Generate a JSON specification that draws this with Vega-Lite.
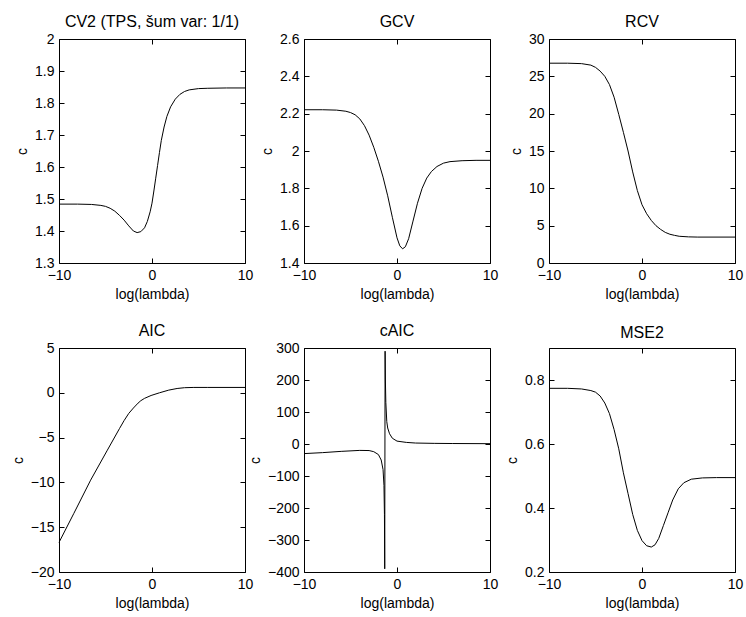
{
  "$schema": "https://vega.github.io/schema/vega-lite/v6.json",
  "padding": {"left": 10, "top": 13, "right": 0, "bottom": 0},
  "config": {
    "font": "Liberation Sans",
    "background": "white",
    "view": {"stroke": "black", "strokeWidth": 1},
    "axis": {
      "grid": false, "domain": false, "ticks": true, "tickColor": "black", "tickSize": 5, "tickWidth": 1, "offset": -5,
      "labelPadding": 5, "labelFontSize": 14, "labelColor": "black", "labelFlush": false, "labelOverlap": false, "labelBound": false,
      "titleFontSize": 14, "titleFontWeight": "normal", "titleColor": "black", "titlePadding": 5, "format": "~f"
    },
    "title": {"fontSize": 16, "fontWeight": "normal", "color": "black", "frame": "group", "anchor": "middle", "offset": 2},
    "line": {"color": "black", "strokeWidth": 1}
  },
  "bounds": "flush",
  "columns": 3,
  "spacing": {"row": 85, "column": 59},
  "concat": [
    {
      "title": "CV2 (TPS, šum var: 1/1)", "width": 186, "height": 224,
      "data": {"values": [
        {"x": -10, "y": 1.484}, {"x": -8, "y": 1.484}, {"x": -6.5, "y": 1.483}, {"x": -5.5, "y": 1.48}, {"x": -5, "y": 1.477}, {"x": -4.5, "y": 1.471}, {"x": -4, "y": 1.462}, {"x": -3.5, "y": 1.449}, {"x": -3, "y": 1.434}, {"x": -2.5, "y": 1.416}, {"x": -2, "y": 1.4}, {"x": -1.6, "y": 1.395}, {"x": -1.2, "y": 1.398}, {"x": -0.8, "y": 1.41}, {"x": -0.5, "y": 1.43}, {"x": -0.2, "y": 1.46}, {"x": 0, "y": 1.487}, {"x": 0.2, "y": 1.525}, {"x": 0.4, "y": 1.565}, {"x": 0.6, "y": 1.605}, {"x": 0.8, "y": 1.645}, {"x": 1, "y": 1.683}, {"x": 1.3, "y": 1.725}, {"x": 1.6, "y": 1.758}, {"x": 2, "y": 1.788}, {"x": 2.5, "y": 1.812}, {"x": 3, "y": 1.827}, {"x": 3.5, "y": 1.836}, {"x": 4, "y": 1.841}, {"x": 5, "y": 1.845}, {"x": 6, "y": 1.846}, {"x": 8, "y": 1.847}, {"x": 10, "y": 1.847}
      ]},
      "layer": [
        {"mark": "line", "encoding": {
          "x": {"field": "x", "type": "quantitative", "scale": {"domain": [-10, 10], "nice": false, "zero": false}, "axis": {"values": [-10, 0, 10], "title": "log(lambda)"}},
          "y": {"field": "y", "type": "quantitative", "scale": {"domain": [1.3, 2], "nice": false, "zero": false}, "axis": {"values": [1.3, 1.4, 1.5, 1.6, 1.7, 1.8, 1.9, 2], "title": "c"}}
        }},
        {"mark": {"type": "line", "opacity": 0}, "encoding": {
          "x": {"field": "x", "type": "quantitative", "axis": {"orient": "top", "values": [-10, 0, 10], "labels": false, "title": null}},
          "y": {"field": "y", "type": "quantitative", "axis": {"orient": "right", "values": [1.3, 1.4, 1.5, 1.6, 1.7, 1.8, 1.9, 2], "labels": false, "title": null}}
        }}
      ],
      "resolve": {"axis": {"x": "independent", "y": "independent"}}
    },
    {
      "title": "GCV", "width": 186, "height": 224,
      "data": {"values": [
        {"x": -10, "y": 2.221}, {"x": -8, "y": 2.221}, {"x": -6.5, "y": 2.219}, {"x": -5.5, "y": 2.213}, {"x": -5, "y": 2.206}, {"x": -4.5, "y": 2.194}, {"x": -4, "y": 2.172}, {"x": -3.5, "y": 2.136}, {"x": -3, "y": 2.085}, {"x": -2.5, "y": 2.02}, {"x": -2, "y": 1.945}, {"x": -1.5, "y": 1.86}, {"x": -1, "y": 1.76}, {"x": -0.5, "y": 1.645}, {"x": 0, "y": 1.535}, {"x": 0.3, "y": 1.492}, {"x": 0.6, "y": 1.476}, {"x": 0.9, "y": 1.487}, {"x": 1.25, "y": 1.53}, {"x": 1.7, "y": 1.62}, {"x": 2.2, "y": 1.72}, {"x": 2.7, "y": 1.8}, {"x": 3.2, "y": 1.855}, {"x": 3.7, "y": 1.89}, {"x": 4.3, "y": 1.917}, {"x": 5, "y": 1.935}, {"x": 5.7, "y": 1.943}, {"x": 7, "y": 1.948}, {"x": 8.5, "y": 1.95}, {"x": 10, "y": 1.95}
      ]},
      "layer": [
        {"mark": "line", "encoding": {
          "x": {"field": "x", "type": "quantitative", "scale": {"domain": [-10, 10], "nice": false, "zero": false}, "axis": {"values": [-10, 0, 10], "title": "log(lambda)"}},
          "y": {"field": "y", "type": "quantitative", "scale": {"domain": [1.4, 2.6], "nice": false, "zero": false}, "axis": {"values": [1.4, 1.6, 1.8, 2, 2.2, 2.4, 2.6], "title": "c"}}
        }},
        {"mark": {"type": "line", "opacity": 0}, "encoding": {
          "x": {"field": "x", "type": "quantitative", "axis": {"orient": "top", "values": [-10, 0, 10], "labels": false, "title": null}},
          "y": {"field": "y", "type": "quantitative", "axis": {"orient": "right", "values": [1.4, 1.6, 1.8, 2, 2.2, 2.4, 2.6], "labels": false, "title": null}}
        }}
      ],
      "resolve": {"axis": {"x": "independent", "y": "independent"}}
    },
    {
      "title": "RCV", "width": 186, "height": 224,
      "data": {"values": [
        {"x": -10, "y": 26.76}, {"x": -8, "y": 26.76}, {"x": -6.5, "y": 26.7}, {"x": -5.5, "y": 26.5}, {"x": -5, "y": 26.2}, {"x": -4.5, "y": 25.7}, {"x": -4, "y": 25}, {"x": -3.5, "y": 23.9}, {"x": -3, "y": 22.2}, {"x": -2.5, "y": 19.9}, {"x": -2, "y": 17.5}, {"x": -1.5, "y": 15}, {"x": -1, "y": 12.2}, {"x": -0.5, "y": 9.7}, {"x": 0, "y": 7.8}, {"x": 0.5, "y": 6.6}, {"x": 1, "y": 5.7}, {"x": 1.5, "y": 5}, {"x": 2, "y": 4.5}, {"x": 2.5, "y": 4.1}, {"x": 3, "y": 3.85}, {"x": 3.5, "y": 3.7}, {"x": 4, "y": 3.58}, {"x": 5, "y": 3.5}, {"x": 6, "y": 3.47}, {"x": 10, "y": 3.47}
      ]},
      "layer": [
        {"mark": "line", "encoding": {
          "x": {"field": "x", "type": "quantitative", "scale": {"domain": [-10, 10], "nice": false, "zero": false}, "axis": {"values": [-10, 0, 10], "title": "log(lambda)"}},
          "y": {"field": "y", "type": "quantitative", "scale": {"domain": [0, 30], "nice": false, "zero": false}, "axis": {"values": [0, 5, 10, 15, 20, 25, 30], "title": "c"}}
        }},
        {"mark": {"type": "line", "opacity": 0}, "encoding": {
          "x": {"field": "x", "type": "quantitative", "axis": {"orient": "top", "values": [-10, 0, 10], "labels": false, "title": null}},
          "y": {"field": "y", "type": "quantitative", "axis": {"orient": "right", "values": [0, 5, 10, 15, 20, 25, 30], "labels": false, "title": null}}
        }}
      ],
      "resolve": {"axis": {"x": "independent", "y": "independent"}}
    },
    {
      "title": "AIC", "width": 186, "height": 224,
      "data": {"values": [
        {"x": -10, "y": -16.7}, {"x": -8.4, "y": -13.45}, {"x": -6.6, "y": -9.75}, {"x": -4.8, "y": -6.4}, {"x": -3.5, "y": -4.0}, {"x": -3, "y": -3.1}, {"x": -2.5, "y": -2.3}, {"x": -2, "y": -1.7}, {"x": -1.5, "y": -1.15}, {"x": -1.2, "y": -0.88}, {"x": -0.8, "y": -0.62}, {"x": -0.1, "y": -0.3}, {"x": 0.8, "y": 0.0}, {"x": 1.8, "y": 0.3}, {"x": 2.7, "y": 0.48}, {"x": 3.5, "y": 0.57}, {"x": 4.5, "y": 0.6}, {"x": 6, "y": 0.6}, {"x": 10, "y": 0.6}
      ]},
      "layer": [
        {"mark": "line", "encoding": {
          "x": {"field": "x", "type": "quantitative", "scale": {"domain": [-10, 10], "nice": false, "zero": false}, "axis": {"values": [-10, 0, 10], "title": "log(lambda)"}},
          "y": {"field": "y", "type": "quantitative", "scale": {"domain": [-20, 5], "nice": false, "zero": false}, "axis": {"values": [-20, -15, -10, -5, 0, 5], "title": "c"}}
        }},
        {"mark": {"type": "line", "opacity": 0}, "encoding": {
          "x": {"field": "x", "type": "quantitative", "axis": {"orient": "top", "values": [-10, 0, 10], "labels": false, "title": null}},
          "y": {"field": "y", "type": "quantitative", "axis": {"orient": "right", "values": [-20, -15, -10, -5, 0, 5], "labels": false, "title": null}}
        }}
      ],
      "resolve": {"axis": {"x": "independent", "y": "independent"}}
    },
    {
      "title": "cAIC", "width": 186, "height": 224,
      "data": {"values": [
        {"x": -10, "y": -30}, {"x": -8, "y": -27}, {"x": -6, "y": -23}, {"x": -4, "y": -20}, {"x": -3, "y": -20.5}, {"x": -2.5, "y": -24}, {"x": -2, "y": -33}, {"x": -1.7, "y": -50}, {"x": -1.5, "y": -80}, {"x": -1.4, "y": -130}, {"x": -1.35, "y": -220}, {"x": -1.32, "y": -390}, {"x": -1.28, "y": 290}, {"x": -1.25, "y": 200}, {"x": -1.2, "y": 130}, {"x": -1.1, "y": 70}, {"x": -1, "y": 50}, {"x": -0.8, "y": 32}, {"x": -0.5, "y": 18}, {"x": 0, "y": 9}, {"x": 1, "y": 5}, {"x": 2, "y": 3}, {"x": 4, "y": 2}, {"x": 6, "y": 1.5}, {"x": 10, "y": 1}
      ]},
      "layer": [
        {"mark": "line", "encoding": {
          "x": {"field": "x", "type": "quantitative", "scale": {"domain": [-10, 10], "nice": false, "zero": false}, "axis": {"values": [-10, 0, 10], "title": "log(lambda)"}},
          "y": {"field": "y", "type": "quantitative", "scale": {"domain": [-400, 300], "nice": false, "zero": false}, "axis": {"values": [-400, -300, -200, -100, 0, 100, 200, 300], "title": "c"}}
        }},
        {"mark": {"type": "line", "opacity": 0}, "encoding": {
          "x": {"field": "x", "type": "quantitative", "axis": {"orient": "top", "values": [-10, 0, 10], "labels": false, "title": null}},
          "y": {"field": "y", "type": "quantitative", "axis": {"orient": "right", "values": [-400, -300, -200, -100, 0, 100, 200, 300], "labels": false, "title": null}}
        }}
      ],
      "resolve": {"axis": {"x": "independent", "y": "independent"}}
    },
    {
      "title": {"text": "MSE2", "offset": 7}, "width": 186, "height": 224,
      "data": {"values": [
        {"x": -10, "y": 0.774}, {"x": -8, "y": 0.774}, {"x": -6.5, "y": 0.772}, {"x": -5.5, "y": 0.767}, {"x": -5, "y": 0.762}, {"x": -4.5, "y": 0.75}, {"x": -4, "y": 0.728}, {"x": -3.5, "y": 0.695}, {"x": -3, "y": 0.645}, {"x": -2.5, "y": 0.585}, {"x": -2, "y": 0.51}, {"x": -1.5, "y": 0.445}, {"x": -1, "y": 0.38}, {"x": -0.5, "y": 0.33}, {"x": 0, "y": 0.298}, {"x": 0.5, "y": 0.282}, {"x": 1, "y": 0.278}, {"x": 1.4, "y": 0.285}, {"x": 1.8, "y": 0.305}, {"x": 2.3, "y": 0.345}, {"x": 2.8, "y": 0.385}, {"x": 3.3, "y": 0.425}, {"x": 3.9, "y": 0.46}, {"x": 4.5, "y": 0.479}, {"x": 5.3, "y": 0.49}, {"x": 6.5, "y": 0.494}, {"x": 8, "y": 0.495}, {"x": 10, "y": 0.495}
      ]},
      "layer": [
        {"mark": "line", "encoding": {
          "x": {"field": "x", "type": "quantitative", "scale": {"domain": [-10, 10], "nice": false, "zero": false}, "axis": {"values": [-10, 0, 10], "title": "log(lambda)"}},
          "y": {"field": "y", "type": "quantitative", "scale": {"domain": [0.2, 0.9], "nice": false, "zero": false}, "axis": {"values": [0.2, 0.4, 0.6, 0.8], "title": "c"}}
        }},
        {"mark": {"type": "line", "opacity": 0}, "encoding": {
          "x": {"field": "x", "type": "quantitative", "axis": {"orient": "top", "values": [-10, 0, 10], "labels": false, "title": null}},
          "y": {"field": "y", "type": "quantitative", "axis": {"orient": "right", "values": [0.2, 0.4, 0.6, 0.8], "labels": false, "title": null}}
        }}
      ],
      "resolve": {"axis": {"x": "independent", "y": "independent"}}
    }
  ]
}
